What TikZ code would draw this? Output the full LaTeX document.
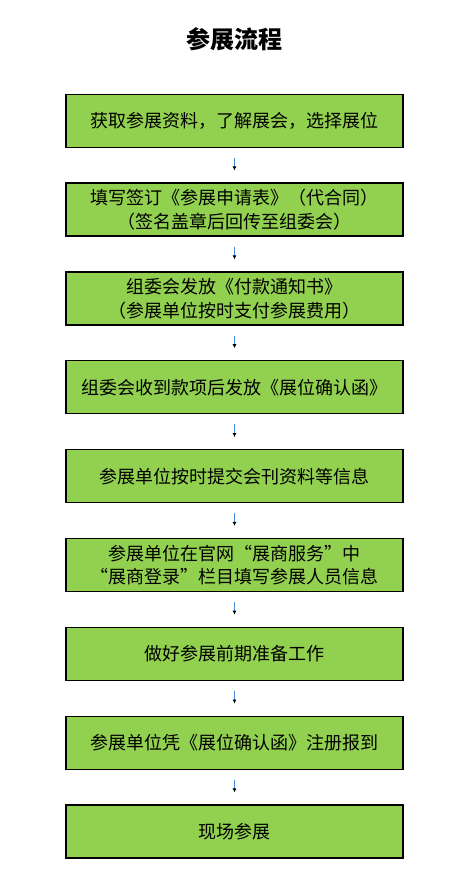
\documentclass[tikz,border=0pt]{standalone}
\usepackage{fontspec}
\setmainfont{Noto Sans CJK SC}
\usetikzlibrary{arrows.meta}
\definecolor{kastengruen}{HTML}{92D050}
\definecolor{pfeilblau}{RGB}{70,140,220}
\begin{document}
\begin{tikzpicture}
		[
		x=1pt, y=-1pt, font=\fontsize{18}{23.5}\selectfont,
		kasten/.style={draw=black, line width=1.2pt, fill=kastengruen, minimum width=337pt, minimum height=53pt, inner sep=0pt, align=center},
		pfeil/.style={pfeilblau, line width=1.3pt, shorten <=10pt, shorten >=12pt, -{Latex[black, length=4pt, width=4pt]}}
		%Voreinstellungen für Kästen und Pfeile
		]
		
		%Rahmen des Bildes
		\useasboundingbox (0,0) rectangle (467,890);
		
		%Titel
		\node[font=\fontsize{24}{28}\selectfont\bfseries] (titel) at (234.5,39) {参展流程};
		
		%Kästen
		\node[kasten] (k1) at (234.5,120.8) {获取参展资料，了解展会，选择展位};
		\node[kasten] (k2) at (234.5,209.6) {填写签订《参展申请表》（代合同）\\（签名盖章后回传至组委会）};
		\node[kasten] (k3) at (234.5,298.5) {组委会发放《付款通知书》\\（参展单位按时支付参展费用）};
		\node[kasten] (k4) at (234.5,387.3) {组委会收到款项后发放《展位确认函》};
		\node[kasten] (k5) at (234.5,476.2) {参展单位按时提交会刊资料等信息};
		\node[kasten] (k6) at (234.5,565.0) {参展单位在官网“展商服务”中\\“展商登录”栏目填写参展人员信息};
		\node[kasten] (k7) at (234.5,653.8) {做好参展前期准备工作};
		\node[kasten] (k8) at (234.5,742.6) {参展单位凭《展位确认函》注册报到};
		\node[kasten] (k9) at (234.5,831.5) {现场参展};
		
		%Pfeile zwischen den Kästen
		\foreach \a/\b in {k1/k2,k2/k3,k3/k4,k4/k5,k5/k6,k6/k7,k7/k8,k8/k9}
		\draw[pfeil] (\a) -- (\b);
	\end{tikzpicture}
\end{document}
